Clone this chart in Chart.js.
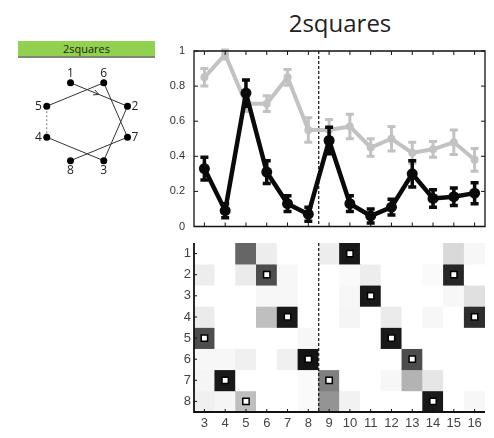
<!DOCTYPE html>
<html>
<head>
<meta charset="utf-8">
<script src="https://cdn.jsdelivr.net/npm/chart.js@4.4.1/dist/chart.umd.min.js"></script>
<style>
  body { margin: 0; background: #fff; width: 494px; height: 438px; position: relative; overflow: hidden; }
  .title { position: absolute; left: 240px; top: 11px; width: 200px; line-height: 24px; text-align: center; font-family: 'Open Sans', sans-serif; font-size: 24px; color: #222; }
  .tag { position: absolute; left: 18px; top: 41px; width: 137px; height: 15px; line-height: 15px; background: #92d050; border-bottom: 2px solid #7d8a70; text-align: center; font: 11px 'Open Sans', sans-serif; color: #1c2610; }
  canvas { position: absolute; }
  #diagram { left: 0; top: 60px; }
  #curves { left: 150px; top: 40px; }
  #heat { left: 150px; top: 236px; }
</style>
</head>
<body>
<div class="title">2squares</div>
<div class="tag">2squares</div>
<canvas id="diagram" width="160" height="130"></canvas>
<canvas id="curves" width="344" height="192"></canvas>
<canvas id="heat" width="344" height="202"></canvas>
<script>
// columns shared by both panels
const cols = ['3', '4', '5', '6', '7', '8', '9', '10', '11', '12', '13', '14', '15', '16'];
const splitAfter = '8';

// upper panel: two curves with error bars
const blackMean = [0.33, 0.09, 0.76, 0.31, 0.13, 0.07, 0.49, 0.13, 0.06, 0.11, 0.30, 0.16, 0.17, 0.19];
const blackErr  = [0.065, 0.04, 0.075, 0.065, 0.045, 0.04, 0.075, 0.045, 0.04, 0.045, 0.075, 0.05, 0.05, 0.06];
const grayMean  = [0.85, 0.98, 0.70, 0.70, 0.85, 0.55, 0.55, 0.57, 0.45, 0.50, 0.42, 0.44, 0.48, 0.38];
const grayErr   = [0.05, 0.025, 0.045, 0.045, 0.045, 0.07, 0.06, 0.07, 0.05, 0.07, 0.06, 0.045, 0.07, 0.065];

// lower panel: rows 1..8, one shade per column (0 = white, 1 = black)
const rows = [1, 2, 3, 4, 5, 6, 7, 8];
const heat = [
  [0,    0,    0.6,  0.07, 0,    0,    0.07, 0.9,  0,    0,    0,    0,    0.15, 0.03],
  [0.07, 0,    0.08, 0.7,  0.03, 0,    0,    0.02, 0.07, 0,    0,    0.02, 0.85, 0],
  [0,    0,    0,    0.03, 0.03, 0,    0,    0.03, 0.9,  0,    0,    0,    0.03, 0.12],
  [0.08, 0,    0,    0.25, 0.9,  0,    0,    0.04, 0,    0.08, 0,    0.03, 0,    0.82],
  [0.7,  0,    0,    0,    0,    0.03, 0,    0,    0,    0.9,  0,    0,    0,    0],
  [0.03, 0.03, 0.06, 0,    0.06, 0.92, 0,    0,    0,    0,    0.7,  0,    0,    0],
  [0.04, 0.9,  0,    0,    0,    0.02, 0.5,  0,    0,    0.03, 0.3,  0.1,  0,    0],
  [0.06, 0.04, 0.25, 0,    0,    0.02, 0.42, 0.05, 0,    0,    0,    0.9,  0,    0.03]
];
const markerRow = [5, 7, 8, 2, 4, 6, 7, 1, 3, 5, 6, 8, 2, 4];

// left diagram: eight nodes on an octagon
const nodeIds   = [1, 2, 3, 4, 5, 6, 7, 8];
const nodeX     = [70, 130, 105, 45, 45, 105, 130, 70];
const nodeY     = [80, 105, 163, 138, 105, 80, 138, 163];
const labelSide = ['top', 'right', 'bottom', 'left', 'left', 'top', 'right', 'bottom'];
const pathA  = [1, 2, 3, 4];
const pathB  = [5, 6, 7, 8];
const bridge = [4, 5];

Chart.defaults.font.family = "'Liberation Sans', Arial, sans-serif";

const shade = v => { const c = Math.round(255 * (1 - v)); return `rgb(${c},${c},${c})`; };
const node = id => ({ x: nodeX[id - 1], y: nodeY[id - 1] });

// keep the plot area fixed: no extra room for half-height edge labels
const fixWidth = w => s => { s.width = w; s.paddingTop = 0; s.paddingBottom = 0; };
const fixHeight = h => s => { s.height = h; s.paddingLeft = 0; s.paddingRight = 0; };

// error bars drawn right after their own dataset
const errorBars = {
  id: 'errorBars',
  afterDatasetDraw(chart, args) {
    const ds = chart.data.datasets[args.index];
    if (!ds.errors) return;
    const y = chart.scales.y, ctx = chart.ctx;
    ctx.save();
    ctx.strokeStyle = ds.borderColor;
    ctx.lineWidth = ds.errWidth;
    args.meta.data.forEach((pt, i) => {
      const top = y.getPixelForValue(ds.data[i] + ds.errors[i]);
      const bot = y.getPixelForValue(ds.data[i] - ds.errors[i]);
      ctx.beginPath();
      ctx.moveTo(pt.x, top); ctx.lineTo(pt.x, bot);
      ctx.moveTo(pt.x - 4, top); ctx.lineTo(pt.x + 4, top);
      ctx.moveTo(pt.x - 4, bot); ctx.lineTo(pt.x + 4, bot);
      ctx.stroke();
    });
    ctx.restore();
  }
};

// dashed separator between the two halves
function drawSplit(chart) {
  const { ctx, chartArea: a, scales: { x } } = chart;
  const i = cols.indexOf(splitAfter);
  const px = (x.getPixelForValue(i) + x.getPixelForValue(i + 1)) / 2;
  ctx.save();
  ctx.strokeStyle = '#111';
  ctx.lineWidth = 1.2;
  ctx.setLineDash([3, 2]);
  ctx.beginPath();
  ctx.moveTo(px, a.top); ctx.lineTo(px, a.bottom);
  ctx.stroke();
  ctx.restore();
}

// axis lines with inward tick marks
function makeFrame(box, tickLen, lineWidth, splitOnTop) {
  return {
    id: 'frame',
    beforeDatasetsDraw(chart) { if (!splitOnTop) drawSplit(chart); },
    afterDraw(chart) {
      if (splitOnTop) drawSplit(chart);
      const { ctx, chartArea: a, scales: { x, y } } = chart;
      ctx.save();
      ctx.strokeStyle = '#111';
      ctx.lineWidth = lineWidth;
      ctx.beginPath();
      if (box) {
        ctx.rect(a.left, a.top, a.right - a.left, a.bottom - a.top);
      } else {
        ctx.moveTo(a.left, a.top); ctx.lineTo(a.left, a.bottom); ctx.lineTo(a.right, a.bottom);
      }
      ctx.stroke();
      ctx.lineWidth = 1;
      ctx.beginPath();
      x.ticks.forEach((t, i) => {
        const px = x.getPixelForTick(i);
        ctx.moveTo(px, a.bottom); ctx.lineTo(px, a.bottom - tickLen);
        if (box) { ctx.moveTo(px, a.top); ctx.lineTo(px, a.top + tickLen); }
      });
      y.ticks.forEach((t, i) => {
        const py = y.getPixelForTick(i);
        ctx.moveTo(a.left, py); ctx.lineTo(a.left + tickLen, py);
        if (box) { ctx.moveTo(a.right, py); ctx.lineTo(a.right - tickLen, py); }
      });
      ctx.stroke();
      ctx.restore();
    }
  };
}

new Chart(document.getElementById('curves'), {
  type: 'line',
  data: {
    labels: cols,
    datasets: [
      {
        data: blackMean, errors: blackErr, errWidth: 3.5,
        borderColor: '#0a0a0a', backgroundColor: '#0a0a0a',
        borderWidth: 4.5, pointRadius: 5.5, pointBorderWidth: 0
      },
      {
        data: grayMean, errors: grayErr, errWidth: 3,
        borderColor: '#c2c2c2', backgroundColor: '#c2c2c2',
        borderWidth: 4, pointRadius: 4, pointBorderWidth: 0
      }
    ]
  },
  options: {
    responsive: false,
    animation: false,
    events: [],
    layout: { padding: { top: 11, right: 9, bottom: 5, left: 0 } },
    plugins: { legend: { display: false }, tooltip: { enabled: false } },
    scales: {
      x: {
        offset: true,
        grid: { display: false, drawTicks: false }, border: { display: false },
        ticks: { display: false, autoSkip: false },
        afterFit: fixHeight(0)
      },
      y: {
        min: 0, max: 1,
        grid: { display: false, drawTicks: false }, border: { display: false },
        ticks: {
          stepSize: 0.2, padding: 9, color: '#333', font: { size: 11 },
          callback: v => String(Math.round(v * 10) / 10)
        },
        afterFit: fixWidth(44)
      }
    }
  },
  plugins: [errorBars, makeFrame(true, 4, 1.3, false)]
});

new Chart(document.getElementById('heat'), {
  type: 'bar',
  data: {
    labels: cols,
    datasets: [
      {
        type: 'line', data: markerRow, showLine: false, order: 0,
        pointStyle: 'rect', pointRadius: 4.5,
        pointBackgroundColor: '#fff', pointBorderColor: '#000', pointBorderWidth: 1.5
      },
      ...rows.map(r => ({
        data: cols.map(() => [r - 0.5, r + 0.5]),
        backgroundColor: heat[r - 1].map(shade),
        borderWidth: 0, grouped: false, order: 1,
        barPercentage: 1, categoryPercentage: 1
      }))
    ]
  },
  options: {
    responsive: false,
    animation: false,
    events: [],
    layout: { padding: { top: 7, right: 9, bottom: 6, left: 0 } },
    plugins: { legend: { display: false }, tooltip: { enabled: false } },
    scales: {
      x: {
        grid: { display: false, drawTicks: false }, border: { display: false },
        ticks: { autoSkip: false, maxRotation: 0, padding: 4, color: '#444', font: { size: 13 } },
        afterFit: fixHeight(20)
      },
      y: {
        min: 0.5, max: 8.5, reverse: true,
        grid: { display: false, drawTicks: false }, border: { display: false },
        afterBuildTicks: s => { s.ticks = rows.map(r => ({ value: r })); },
        ticks: { padding: 3, color: '#444', font: { size: 13 } },
        afterFit: fixWidth(44)
      }
    }
  },
  plugins: [makeFrame(false, 3, 1.8, true)]
});

// node labels and the direction arrow on the first edge
const diagramDecor = {
  id: 'diagramDecor',
  afterDatasetsDraw(chart) {
    const { ctx, scales: { x, y } } = chart;
    ctx.save();
    ctx.fillStyle = '#222';
    ctx.font = '12px "Open Sans", sans-serif';
    nodeIds.forEach((id, i) => {
      let px = x.getPixelForValue(nodeX[i]), py = y.getPixelForValue(nodeY[i]);
      const side = labelSide[i];
      ctx.textAlign = side === 'left' ? 'right' : side === 'right' ? 'left' : 'center';
      ctx.textBaseline = side === 'top' ? 'bottom' : side === 'bottom' ? 'top' : 'middle';
      if (side === 'top') py -= 3;
      if (side === 'bottom') py += 4;
      if (side === 'left') px -= 5;
      if (side === 'right') px += 4;
      ctx.fillText(String(id), px, py);
    });
    const a = node(pathA[0]), b = node(pathA[1]);
    const ax = x.getPixelForValue(a.x), ay = y.getPixelForValue(a.y);
    const bx = x.getPixelForValue(b.x), by = y.getPixelForValue(b.y);
    const mx = (ax + bx) / 2, my = (ay + by) / 2;
    const ang = Math.atan2(by - ay, bx - ax);
    ctx.strokeStyle = '#333';
    ctx.lineWidth = 1;
    ctx.beginPath();
    ctx.moveTo(mx - 6 * Math.cos(ang - 0.45), my - 6 * Math.sin(ang - 0.45));
    ctx.lineTo(mx, my);
    ctx.lineTo(mx - 6 * Math.cos(ang + 0.45), my - 6 * Math.sin(ang + 0.45));
    ctx.stroke();
    ctx.restore();
  }
};

const pathLine = (ids, dash) => ({
  data: ids.map(node), showLine: true, pointRadius: 0,
  borderColor: dash ? '#777' : '#333', borderWidth: 1, borderDash: dash ? [2, 2] : []
});

new Chart(document.getElementById('diagram'), {
  type: 'scatter',
  data: {
    datasets: [
      {
        data: nodeIds.map(node), pointRadius: 3.5,
        pointBackgroundColor: '#000', pointBorderWidth: 0
      },
      pathLine(pathA, false),
      pathLine(pathB, false),
      pathLine(bridge, true)
    ]
  },
  options: {
    responsive: false,
    animation: false,
    events: [],
    layout: { padding: 0 },
    plugins: { legend: { display: false }, tooltip: { enabled: false } },
    scales: {
      x: { display: false, min: 0, max: 160 },
      y: { display: false, min: 60, max: 190, reverse: true }
    }
  },
  plugins: [diagramDecor]
});
</script>
</body>
</html>
